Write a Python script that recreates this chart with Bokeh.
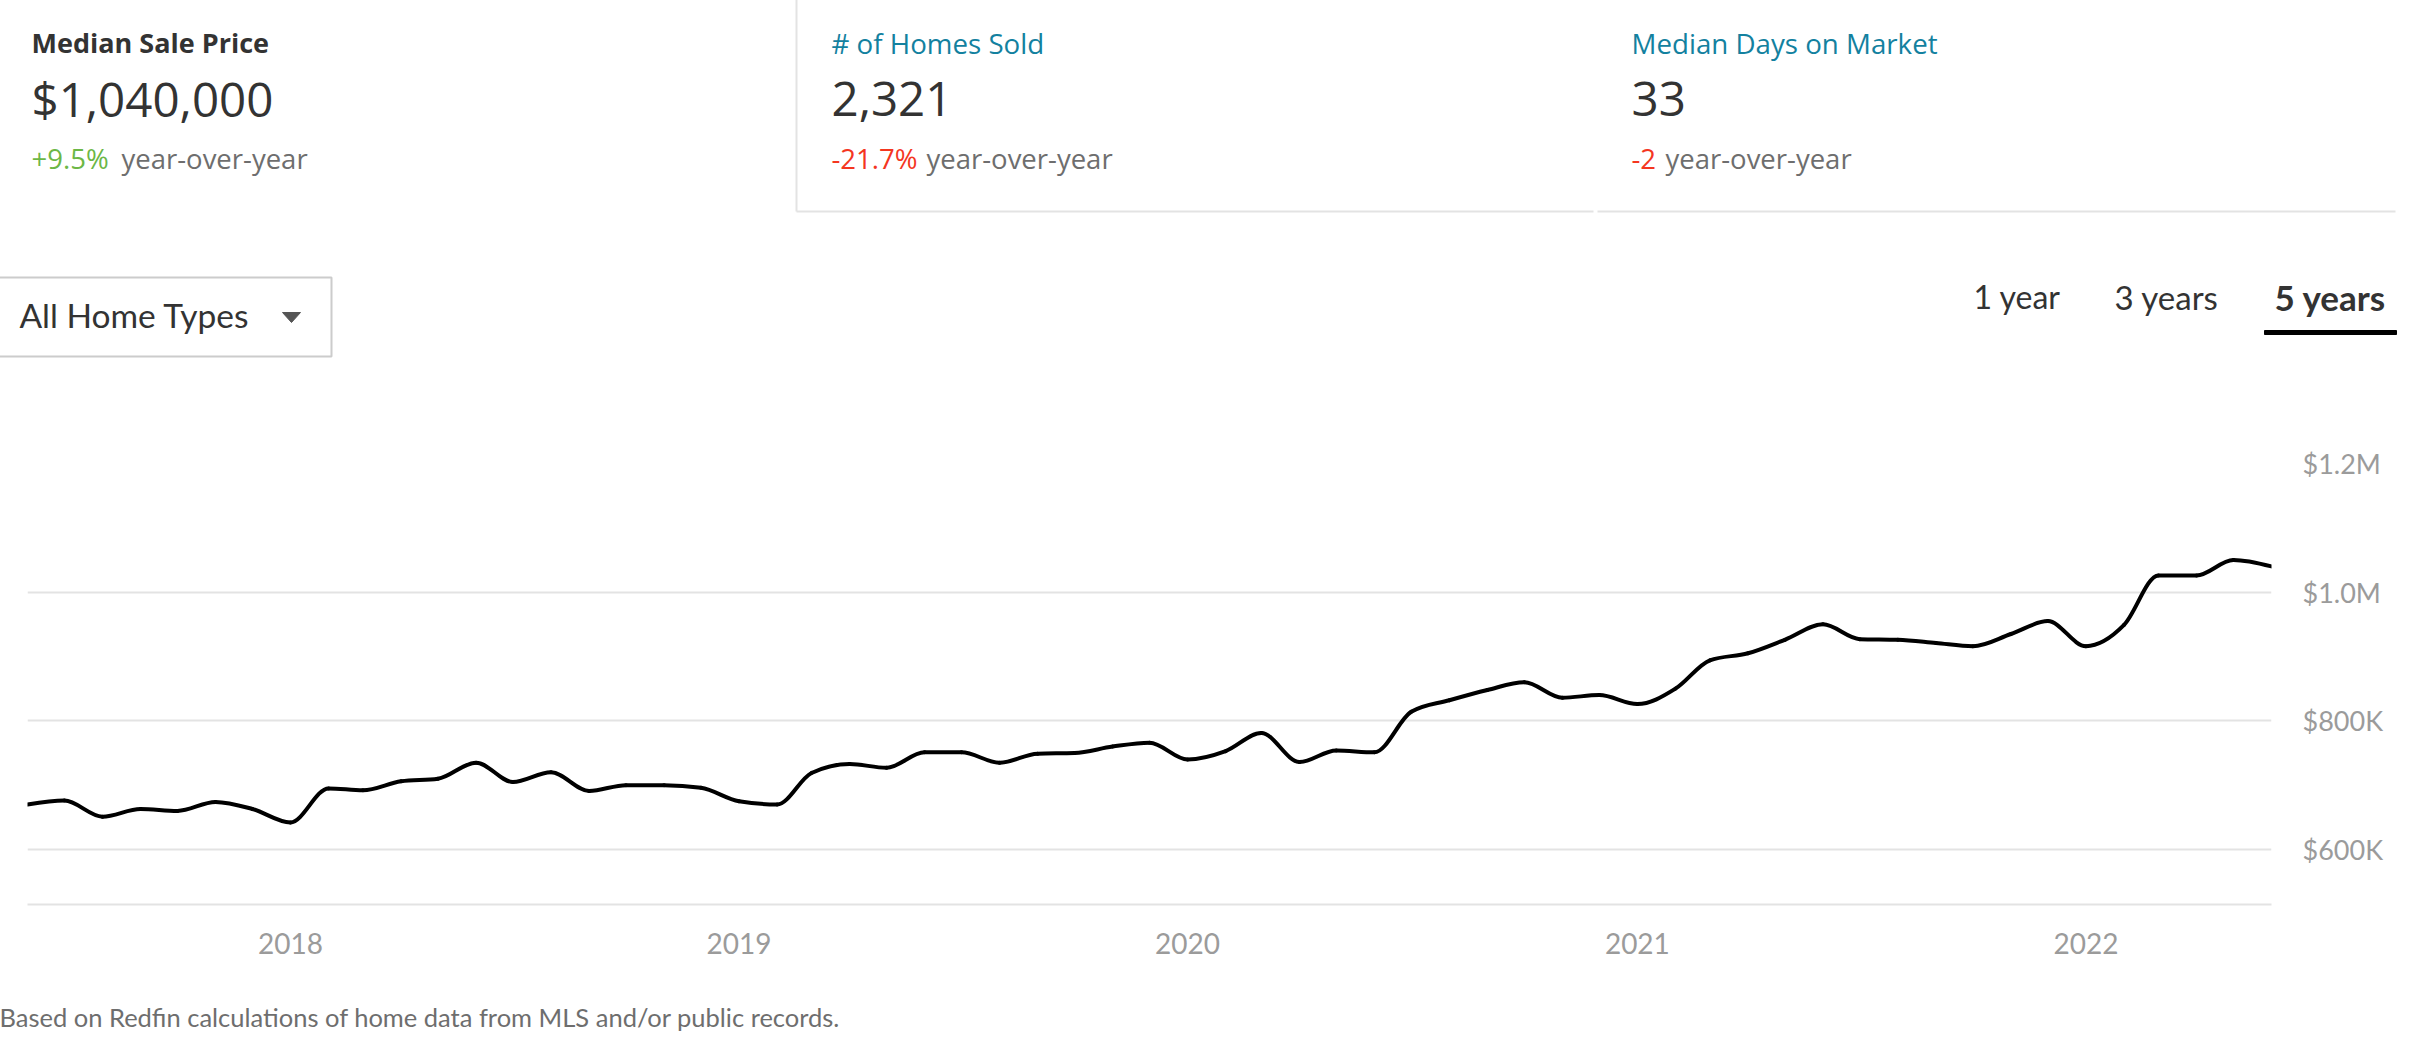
import numpy as np
import pandas as pd
from bokeh.plotting import figure
from bokeh.models import Range1d, FixedTicker, ColumnDataSource
from bokeh.core.properties import value
from bokeh.embed import file_html
from bokeh.resources import INLINE

# ---------------- data ----------------
months = pd.date_range("2017-06-01", periods=61, freq="MS")
median_price = [
    670000, 676000, 651000, 663000, 660000, 674000, 663000,            # 2017 Jun-Dec
    642000, 695000, 692000, 706000, 710000, 735000, 705000, 720000,    # 2018 Jan-Aug
    691000, 700000, 700000, 696000,                                    # 2018 Sep-Dec
    675000, 670000, 719000, 733000, 727000, 751000, 751000, 735000,    # 2019 Jan-Aug
    749000, 750000, 760000, 766000,                                    # 2019 Sep-Dec
    740000, 753000, 781000, 736000, 754000, 751000, 814000, 832000,    # 2020 Jan-Aug
    848000, 860000, 836000, 840000,                                    # 2020 Sep-Dec
    826000, 850000, 894000, 905000, 926000, 950000, 927000, 926000,    # 2021 Jan-Aug
    921000, 916000, 935000, 955000,                                    # 2021 Sep-Dec
    916000, 949000, 1026000, 1026000, 1050000, 1040000,                # 2022 Jan-Jun
]
year_labels = ["2018", "2019", "2020", "2021", "2022"]
price_ticks = [600000, 800000, 1000000, 1200000]
price_tick_labels = ["$600K", "$800K", "$1.0M", "$1.2M"]

card_titles = ["Median Sale Price", "# of Homes Sold", "Median Days on Market"]
card_values = ["$1,040,000", "2,321", "33"]
card_changes = ["+9.5%", "-21.7%", "-2"]
change_suffix = "year-over-year"
home_type = "All Home Types"
periods = ["1 year", "3 years", "5 years"]
footnote = "Based on Redfin calculations of home data from MLS and/or public records."

# ---------------- style ----------------
W, H = 2414, 1032
FONT = "Lato"
HFONT = "Open Sans"
DARK = "#333333"
TEAL = "#13819f"
GREEN = "#6cb746"
RED = "#f4361f"
GREY = "#6e6e6e"
AXIS_GREY = "#9b9b9b"
RULE = "#e3e3e3"

# chart frame in page pixels
F_LEFT, F_RIGHT, F_TOP, F_BOTTOM = 27, 2271, 463, 904

xs = np.array([t.value / 1e6 for t in months], dtype=float)
ys = np.array(median_price, dtype=float)

p = figure(width=W, height=H, x_axis_type="datetime", y_axis_location="right",
           x_range=Range1d(xs[0], xs[-1]), y_range=Range1d(514500, 1200000),
           output_backend="svg", toolbar_location=None,
           min_border_left=F_LEFT, min_border_right=W - F_RIGHT,
           min_border_top=F_TOP, min_border_bottom=H - F_BOTTOM)
p.outline_line_color = None
p.xgrid.visible = False
p.ygrid.ticker = FixedTicker(ticks=price_ticks)
p.ygrid.grid_line_color = RULE
p.ygrid.grid_line_width = 2

p.yaxis.ticker = FixedTicker(ticks=price_ticks)
p.yaxis.major_label_overrides = {t: l for t, l in zip(price_ticks, price_tick_labels)}
p.yaxis.axis_line_color = None
p.yaxis.major_tick_line_color = None
p.yaxis.minor_tick_line_color = None
p.yaxis.major_label_standoff = 25
p.yaxis.major_label_text_font = FONT
p.yaxis.major_label_text_font_size = "27px"
p.yaxis.major_label_text_color = AXIS_GREY

year_ticks = [pd.Timestamp(f"{y}-01-01").value / 1e6 for y in year_labels]
p.xaxis.ticker = FixedTicker(ticks=year_ticks)
p.xaxis.major_label_overrides = {t: l for t, l in zip(year_ticks, year_labels)}
p.xaxis.axis_line_color = RULE
p.xaxis.axis_line_width = 2
p.xaxis.major_tick_line_color = None
p.xaxis.minor_tick_line_color = None
p.xaxis.major_label_standoff = 22
p.xaxis.major_label_text_font = FONT
p.xaxis.major_label_text_font_size = "28px"
p.xaxis.major_label_text_color = AXIS_GREY

# monotone-x curve through the monthly values
h = np.diff(xs)
s = np.diff(ys) / h
n = len(xs)
tan = np.zeros(n)
for i in range(1, n - 1):
    h0, h1 = h[i - 1], h[i]
    s0, s1 = s[i - 1], s[i]
    pp = (s0 * h1 + s1 * h0) / (h0 + h1)
    tan[i] = (np.sign(s0) + np.sign(s1)) * min(abs(s0), abs(s1), 0.5 * abs(pp))
tan[0] = (3 * s[0] - tan[1]) / 2
tan[-1] = (3 * s[-1] - tan[-2]) / 2
p.bezier(x0=xs[:-1], y0=ys[:-1], x1=xs[1:], y1=ys[1:],
         cx0=xs[:-1] + h / 3, cy0=ys[:-1] + tan[:-1] * h / 3,
         cx1=xs[1:] - h / 3, cy1=ys[1:] - tan[1:] * h / 3,
         line_color="black", line_width=4, line_cap="round")

# ---------------- page-pixel layer for the surrounding page elements ----------------
p.extra_x_ranges = {"px": Range1d(F_LEFT, F_RIGHT)}
p.extra_y_ranges = {"py": Range1d(F_BOTTOM, F_TOP)}
PX = dict(x_range_name="px", y_range_name="py", level="overlay")

# header cards (one font); y values are the vertical centres of the texts
card_x = [31, 831, 1631]
suffix_x = [121, 926, 1665]
title_colors = [DARK, TEAL, TEAL]
title_styles = ["bold", "normal", "normal"]
title_sizes = ["27px", "27.7px", "27.7px"]
change_colors = [GREEN, RED, RED]
hx, hy, ht, hc, hs, hw = [], [], [], [], [], []
for i in range(3):
    hx += [card_x[i], card_x[i], card_x[i], suffix_x[i]]
    hy += [42, 98, 158, 158]
    ht += [card_titles[i], card_values[i], card_changes[i], change_suffix]
    hc += [title_colors[i], DARK, change_colors[i], GREY]
    hs += [title_sizes[i], "47.5px", "27.5px", "27.5px"]
    hw += [title_styles[i], "normal", "normal", "normal"]
hsrc = ColumnDataSource(dict(x=hx, y=hy, text=ht, color=hc, size=hs, style=hw))
p.text(x="x", y="y", text="text", source=hsrc, text_color="color", text_font_size="size",
       text_font_style="style", text_font=value(HFONT), text_baseline="middle",
       text_align="left", **PX)

# dropdown, period tabs, footnote
tab_x = [1973, 2114, 2274]
lx = [19] + tab_x + [-1]
ly = [314, 296, 296, 296, 1016]
lt = [home_type] + periods + [footnote]
lc = [DARK, DARK, DARK, DARK, GREY]
ls = ["33.5px", "32px", "33px", "35px", "25.5px"]
lw = ["normal", "normal", "normal", "bold", "normal"]
lsrc = ColumnDataSource(dict(x=lx, y=ly, text=lt, color=lc, size=ls, style=lw))
p.text(x="x", y="y", text="text", source=lsrc, text_color="color", text_font_size="size",
       text_font_style="style", text_font=value(FONT), text_baseline="middle",
       text_align="left", **PX)

# card borders
for bx, by in [([796, 796], [-20, 211]), ([796, 1593], [211, 211]), ([1597, 2395], [211, 211])]:
    p.line(x=bx, y=by, line_color=RULE, line_width=2, **PX)
# dropdown box and arrow
p.line(x=[-20, 331, 331, -20], y=[277, 277, 356, 356], line_color="#cccccc", line_width=2, **PX)
p.patch(x=[282, 300, 291], y=[312, 312, 322], color="#555555", **PX)
# active tab underline
p.patch(x=[2264, 2396, 2396, 2264], y=[330, 330, 334, 334], color="black", **PX)

open("out.html", "w").write(file_html(p, INLINE))
